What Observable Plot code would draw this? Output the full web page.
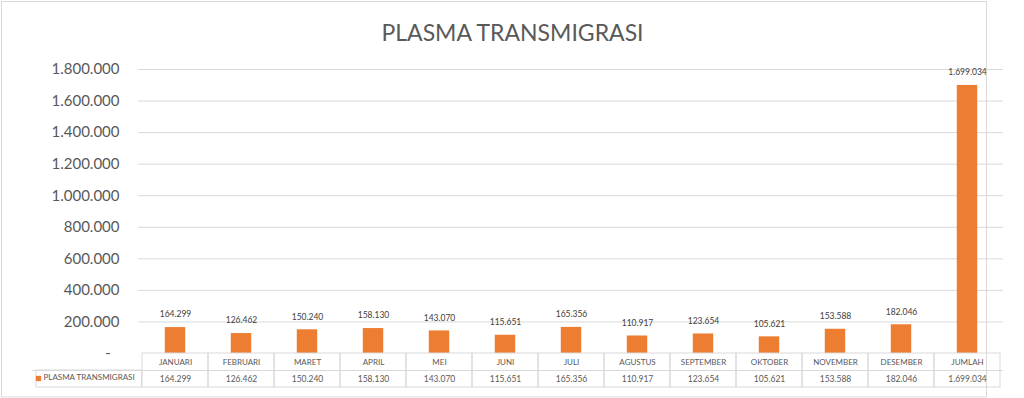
<!DOCTYPE html>
<html>
<head>
<meta charset="utf-8">
<script src="https://cdn.jsdelivr.net/npm/d3@7"></script>
<script src="https://cdn.jsdelivr.net/npm/@observablehq/plot@0.6"></script>
<style>
  html, body { margin: 0; padding: 0; background: #fff; }
  #chart svg { display: block; }
</style>
</head>
<body>
<div id="chart"></div>
<script>
const title = "PLASMA TRANSMIGRASI";
const seriesName = "PLASMA TRANSMIGRASI";
const categories = ["JANUARI","FEBRUARI","MARET","APRIL","MEI","JUNI","JULI","AGUSTUS","SEPTEMBER","OKTOBER","NOVEMBER","DESEMBER","JUMLAH"];
const values = [164299,126462,150240,158130,143070,115651,165356,110917,123654,105621,153588,182046,1699034];
const yTicks = [0,200000,400000,600000,800000,1000000,1200000,1400000,1600000,1800000];

const W = 1024, H = 398, mL = 138, mR = 21, mT = 69, mB = 45;
const bw = (W - mL - mR) / categories.length;
const rowH = 17;
const leftCell = 106;
const orange = "#ED7D31", grid = "#d9d9d9", textCol = "#595959";

const rows = categories.map((c, i) => ({cat: c, value: values[i]}));
const loc = d3.formatLocale({decimal: ",", thousands: ".", grouping: [3], currency: ["", ""]});
const fmt = loc.format(",");

const chart = Plot.plot({
  width: W, height: H,
  marginLeft: mL, marginRight: mR, marginTop: mT, marginBottom: mB,
  style: {fontFamily: "Lato, 'Open Sans', sans-serif", color: textCol, background: "white", overflow: "visible"},
  x: {domain: categories, padding: 0, axis: null},
  y: {domain: [0, 1800000], axis: null},
  marks: [
    Plot.frame({stroke: grid, insetLeft: -(mL - 1), insetTop: -(mT - 1), insetRight: -(W - mR - 1020), insetBottom: -(396.5 - (H - mB))}),
    Plot.text([title], {frameAnchor: "top", dx: W / 2 - (mL + (W - mL - mR) / 2), dy: 33.5 - mT, fontSize: 23, fontWeight: 400, fill: textCol, lineAnchor: "middle", ariaLabel: "chart-title"}),
    Plot.ruleY(yTicks.filter(d => d > 0), {stroke: grid}),
    Plot.axisY({ticks: yTicks, tickSize: 0, tickPadding: 19, fontSize: 15, fill: textCol, label: null,
      tickFormat: d => d === 0 ? "-\u2007" : fmt(d)}),
    Plot.barY(rows, {x: "cat", y: "value", fill: orange, insetLeft: (bw - 21) / 2, insetRight: (bw - 21) / 2}),
    Plot.text(rows, {x: "cat", y: "value", text: d => fmt(d.value), dy: -13, fontSize: 8.5, fill: "#404040"}),
    // data table cells
    Plot.barY(rows, {x: "cat", y1: 0, y2: 0, insetTop: 0, insetBottom: -2 * rowH, fill: "none", stroke: grid}),
    Plot.ruleY([0], {dy: rowH, insetLeft: -leftCell, stroke: grid}),
    Plot.barY([{cat: categories[0]}], {x: "cat", y1: 0, y2: 0, insetTop: rowH, insetBottom: -2 * rowH,
      insetLeft: -leftCell, insetRight: bw, fill: "none", stroke: grid}),
    Plot.text(rows, {x: "cat", y: 0, dy: 9.4, text: "cat", fontSize: 8, fill: textCol, ariaLabel: "table-cat"}),
    Plot.text(rows, {x: "cat", y: 0, dy: 26, text: d => fmt(d.value), fontSize: 8.5, fill: textCol, ariaLabel: "table-val"}),
    Plot.dot([seriesName], {frameAnchor: "bottom-left", dx: 38 - mL, dy: 378 - (H - mB), symbol: "square", r: 3, fill: orange, stroke: null}),
    Plot.text([seriesName], {frameAnchor: "bottom-left", dx: 43 - mL, dy: 26, text: d => d, textAnchor: "start", fontSize: 8, fill: textCol, ariaLabel: "table-series"})
  ]
});
d3.select(chart).selectAll('g[aria-label="table-cat"] text, g[aria-label="table-series"] text').attr("letter-spacing", 0.7);
d3.select(chart).selectAll('g[aria-label="chart-title"] text').attr("letter-spacing", 0.3);
document.getElementById("chart").appendChild(chart);
</script>
</body>
</html>
